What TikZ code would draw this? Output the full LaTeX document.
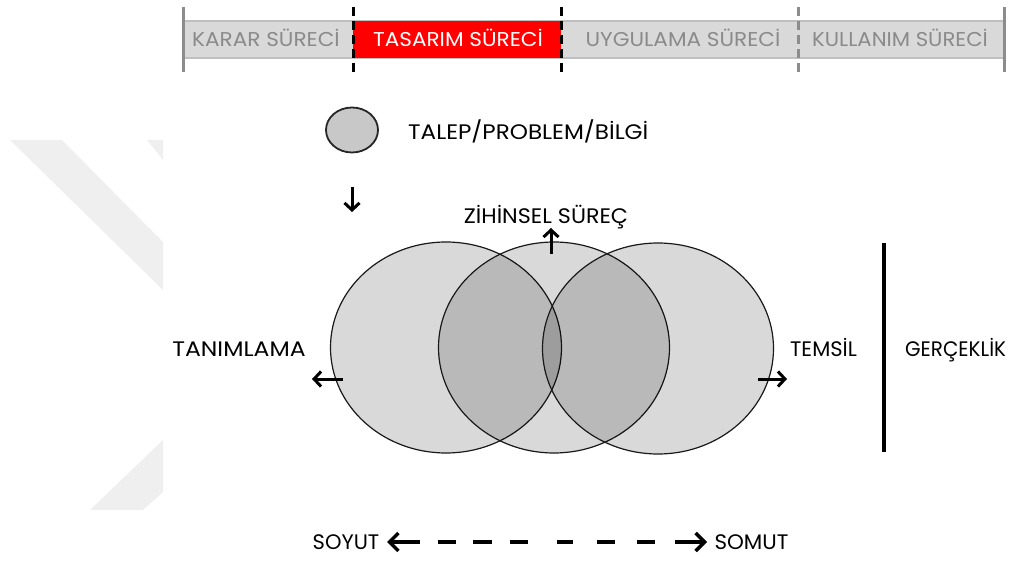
\documentclass[tikz,border=0pt]{standalone}
\usepackage{fontspec}
\setmainfont{Poppins}
\usetikzlibrary{arrows.meta,shapes.geometric}
\definecolor{barfill}{HTML}{D9D9D9}
\definecolor{barline}{HTML}{BFBFBF}
\definecolor{bartext}{HTML}{8A8A8A}
\definecolor{edgegray}{HTML}{8C8C8C}
\definecolor{markgray}{HTML}{EFEFEF}
\definecolor{dotfill}{HTML}{C8C8C8}
% horizontally widened text
\newcommand{\widetext}[2]{\scalebox{#1}[1]{#2}}
\begin{document}
\begin{tikzpicture}[x=1pt,y=-1pt,
  lbl/.style={inner sep=0pt, font=\fontsize{21}{21}\selectfont},
  phase/.style={inner sep=0pt, font=\fontsize{20}{20}\selectfont, text=bartext},
  venn/.style={ellipse, draw=black!90, line width=1.2pt, fill=black, fill opacity=0.15, draw opacity=1,
               minimum width=231pt, minimum height=211pt, inner sep=0pt},
  thinarr/.style={line width=3pt, -{Straight Barb[length=7pt,width=15pt]}},
  thickarr/.style={line width=3.5pt, -{Straight Barb[length=9pt,width=18pt]}},
  cutline/.style={line width=3pt, dash pattern=on 9pt off 5pt},
]
\useasboundingbox (0,0) rectangle (1009,561);

% faint background mark on the left
\fill[markgray] (10,140) -- (62,140) -- (163,242) -- (163,290) -- cycle;
\fill[markgray] (147,140) -- (163,140) -- (163,160) -- cycle;
\fill[markgray] (163,440) -- (163,492) -- (143,510) -- (90,510) -- cycle;

% phase bar
\fill[barfill] (183,21) rectangle (1004,58);
\draw[barline, line width=1.5pt] (183,21) -- (1004,21) (183,58) -- (1004,58);
\fill[red] (353,21) rectangle (561,58);
\draw[edgegray, line width=3pt] (183,7) -- (183,72) (1004,7) -- (1004,72);
\draw[cutline] (353,7) -- (353,72) (561,7) -- (561,72);
\draw[cutline, edgegray] (798,7) -- (798,72);

\node[phase, anchor=base] (karar) at (266,47) {\widetext{1.08}{KARAR SÜRECİ}};
\node[phase, anchor=base, text=white] (tasarim) at (458,47) {\widetext{1.08}{TASARIM SÜRECİ}};
\node[phase, anchor=base] (uygulama) at (683,47) {\widetext{1.08}{UYGULAMA SÜRECİ}};
\node[phase, anchor=base] (kullanim) at (900,47) {\widetext{1.06}{KULLANIM SÜRECİ}};

% input
\node[ellipse, draw=black!85, line width=1.8pt, fill=dotfill, minimum width=52pt,
      minimum height=45pt, inner sep=0pt] (dot) at (352,130) {};
\node[lbl, anchor=base west] (talep) at (408,139.5) {\widetext{1.1}{TALEP/PROBLEM/BİLGİ}};
\coordinate (downA) at (352,187);
\coordinate (downB) at (352,212);
\draw[thinarr] (downA) -- (downB);

% overlapping sets
\node[venn] (left) at (446,347.5) {};
\node[venn] (mid) at (554,347.5) {};
\node[venn] (right) at (658,348.5) {};

\node[lbl, anchor=base] (zihin) at (546,224) {\widetext{1.06}{ZİHİNSEL SÜREÇ}};
\node[lbl, anchor=base] (tanim) at (239,356) {\widetext{1.12}{TANIMLAMA}};
\node[lbl, anchor=base] (temsil) at (823.5,356) {TEMSİL};
\node[lbl, anchor=base west] (gercek) at (905,356) {\widetext{0.95}{GERÇEKLİK}};

\coordinate (upA) at (551,254);
\coordinate (upB) at (551,228);
\coordinate (lA) at (343,379);
\coordinate (lB) at (312,379);
\coordinate (rA) at (758,379);
\coordinate (rB) at (787,379);
\draw[thinarr] (upA) -- (upB);
\draw[thinarr] (lA) -- (lB);
\draw[thinarr] (rA) -- (rB);

\coordinate (sepTop) at (884,243);
\coordinate (sepBot) at (884,452);
\draw[line width=4pt] (sepTop) -- (sepBot);

% abstract / concrete scale
\node[lbl, anchor=base] (soyut) at (346,549) {SOYUT};
\node[lbl, anchor=base] (somut) at (751.5,549) {\widetext{1.02}{SOMUT}};
\coordinate (sA) at (420,542);
\coordinate (sB) at (387,542);
\coordinate (mA) at (438,542);
\coordinate (mB) at (655,542);
\coordinate (tA) at (675,542);
\coordinate (tB) at (707,542);
\draw[thickarr] (sA) -- (sB);
\draw[thickarr] (tA) -- (tB);
\draw[line width=3.5pt, dash pattern=on 18pt off 17pt on 19pt off 18pt on 18pt off 29pt on 16pt off 24pt on 18pt off 22pt on 18pt] (mA) -- (mB);
\end{tikzpicture}
\end{document}
